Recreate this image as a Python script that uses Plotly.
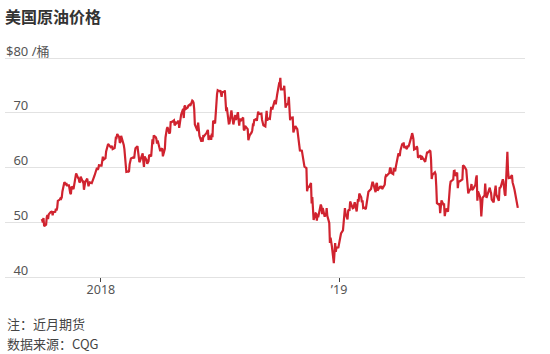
import pandas as pd
import plotly.graph_objects as go

# ---- data: WTI front-month daily settlements (US$/barrel) ----
p_2017_10 = [50.58, 50.42, 49.98, 50.79, 49.29, 49.58, 50.92, 51.30, 50.60, 51.45,
             51.87, 51.88, 52.04, 51.29, 51.84, 51.90, 52.47, 52.18, 52.64, 53.90,
             54.15, 54.38]
p_2017_11 = [54.30, 54.54, 55.64, 57.35, 57.20, 56.81, 57.17, 56.74, 56.76, 55.70,
             55.33, 55.14, 56.55, 56.09, 56.83, 58.02, 58.95, 58.11, 57.99, 57.30, 57.40]
p_2017_12 = [58.36, 57.47, 57.62, 55.96, 56.69, 57.36, 57.99, 57.14, 56.60, 57.04,
             57.30, 57.16, 57.46, 57.82, 58.09, 58.47, 59.97, 59.64, 59.84, 60.42]
p_2018_01 = [60.37, 61.63, 62.01, 61.44, 61.73, 62.96, 63.57, 63.80, 64.30, 63.73,
             63.97, 63.95, 63.37, 63.57, 64.47, 65.61, 65.51, 66.14, 65.56, 64.50, 64.73]
p_2018_02 = [65.80, 65.45, 64.15, 63.39, 61.79, 61.15, 59.20, 59.29, 59.19, 60.60,
             61.34, 61.68, 61.90, 61.68, 62.77, 63.55, 63.91, 63.01, 61.64]
p_2018_03 = [60.99, 61.25, 62.57, 62.60, 61.15, 60.12, 62.04, 61.36, 60.71, 60.96,
             61.19, 62.34, 62.06, 63.54, 65.17, 64.30, 65.88, 65.55, 65.25, 64.38, 64.94]
p_2018_04 = [63.01, 63.51, 63.37, 63.54, 62.06, 63.42, 65.51, 66.82, 67.07, 67.39,
             66.22, 66.52, 68.47, 68.29, 68.38, 68.64, 67.70, 68.05, 68.19, 68.10, 68.57]
p_2018_05 = [67.25, 67.93, 68.43, 69.72, 70.73, 69.06, 71.14, 71.36, 70.70, 70.96,
             71.31, 71.49, 71.49, 71.28, 72.24, 72.13, 71.84, 70.71, 67.88, 66.73,
             68.21, 67.04]
p_2018_06 = [65.81, 64.75, 65.52, 64.73, 65.95, 65.74, 66.10, 66.36, 66.64, 66.89,
             65.06, 65.85, 65.07, 66.22, 65.54, 68.58, 68.08, 70.53, 72.76, 73.45, 74.15]
p_2018_07 = [73.94, 74.14, 72.94, 73.80, 73.85, 74.11, 70.38, 70.33, 71.01, 68.06,
             68.08, 68.76, 69.46, 70.46, 67.89, 68.52, 69.30, 69.61, 68.69, 70.13, 68.76]
p_2018_08 = [67.66, 68.96, 68.49, 69.01, 69.17, 66.94, 66.81, 67.63, 67.20, 67.04,
             65.01, 65.46, 65.91, 66.43, 66.84, 67.86, 67.83, 68.72, 68.87, 68.53,
             69.51, 70.25, 69.80]
p_2018_09 = [69.87, 68.72, 67.77, 67.75, 67.54, 69.25, 70.37, 68.59, 68.99, 68.91,
             69.85, 71.12, 70.80, 70.78, 72.08, 72.28, 71.57, 72.12, 73.25]
p_2018_10 = [75.30, 75.23, 76.41, 74.33, 74.34, 74.29, 74.96, 73.17, 70.97, 71.34,
             71.78, 72.92, 69.75, 68.65, 69.12, 69.17, 66.43, 66.82, 67.33, 67.59,
             67.04, 66.18, 65.31]
p_2018_11 = [63.69, 63.14, 63.10, 62.21, 61.67, 60.67, 60.19, 59.93, 55.69, 56.25,
             56.46, 56.46, 57.20, 53.43, 54.63, 50.42, 51.63, 51.56, 50.29, 51.45, 50.93]
p_2018_12 = [52.95, 53.25, 52.89, 51.49, 52.61, 51.00, 51.65, 51.15, 52.58, 51.20,
             49.88, 46.24, 47.20, 45.88, 45.59, 42.53, 46.22, 44.61, 45.33, 45.41]
p_2019_01 = [46.54, 47.09, 47.96, 48.52, 49.78, 52.36, 52.59, 51.59, 50.51, 52.11,
             52.31, 52.07, 53.80, 52.57, 52.62, 53.13, 53.69, 51.99, 53.31, 54.23, 53.79]
p_2019_02 = [55.26, 54.56, 53.66, 54.01, 52.64, 52.72, 52.41, 53.10, 53.90, 54.41,
             55.59, 56.09, 56.92, 57.26, 57.26, 55.48, 55.50, 56.94, 57.22]
p_2019_03 = [55.80, 56.59, 56.56, 56.22, 56.66, 56.07, 56.79, 56.87, 58.26, 58.61,
             58.52, 59.09, 59.03, 59.83, 59.98, 59.04, 58.82, 59.94, 59.41, 59.30, 60.14]
p_2019_04 = [61.59, 62.58, 62.46, 62.10, 63.08, 64.40, 64.05, 64.61, 63.58, 63.89,
             63.40, 64.05, 63.76, 64.00, 65.70, 66.30, 65.89, 65.21, 63.30, 63.50, 63.91]
p_2019_05 = [63.60, 61.81, 61.94, 62.25, 61.40, 62.12, 61.70, 61.66, 61.04, 61.78,
             62.02, 62.87, 62.76, 63.10, 62.99, 61.42, 57.91, 58.63, 59.14, 58.81,
             56.59, 53.50]
p_2019_06 = [53.25, 53.48, 51.68, 52.59, 53.99, 53.26, 53.27, 51.14, 52.28, 52.51,
             51.93, 53.90, 53.76, 56.65, 57.43, 57.90, 57.83, 59.38, 59.43, 58.47]
p_2019_07 = [59.09, 56.25, 57.34, 57.51, 57.66, 57.83, 60.43, 60.20, 60.21, 59.58,
             57.62, 56.78, 55.30, 55.63, 56.22, 57.00, 55.88, 56.02, 56.20, 56.87,
             58.05, 58.58]
p_2019_08 = [53.95, 55.66, 54.69, 53.63, 51.09, 52.54, 54.50, 54.93, 57.10, 55.23,
             54.47, 54.87, 56.21, 56.34, 55.68, 55.35, 54.17, 53.64, 54.93, 55.78,
             56.71, 55.10]
p_2019_09 = [53.94, 56.26, 56.30, 56.52, 57.85, 57.40, 55.75, 55.09, 54.85, 62.90,
             59.34, 58.11, 58.13, 58.09, 58.64, 57.29, 56.49, 56.41, 55.91, 54.07]
p_2019_10 = [53.62, 52.64]

months = [("2017-10", p_2017_10), ("2017-11", p_2017_11), ("2017-12", p_2017_12),
          ("2018-01", p_2018_01), ("2018-02", p_2018_02), ("2018-03", p_2018_03),
          ("2018-04", p_2018_04), ("2018-05", p_2018_05), ("2018-06", p_2018_06),
          ("2018-07", p_2018_07), ("2018-08", p_2018_08), ("2018-09", p_2018_09),
          ("2018-10", p_2018_10), ("2018-11", p_2018_11), ("2018-12", p_2018_12),
          ("2019-01", p_2019_01), ("2019-02", p_2019_02), ("2019-03", p_2019_03),
          ("2019-04", p_2019_04), ("2019-05", p_2019_05), ("2019-06", p_2019_06),
          ("2019-07", p_2019_07), ("2019-08", p_2019_08), ("2019-09", p_2019_09),
          ("2019-10", p_2019_10)]

holidays = ["2017-11-23", "2017-12-25", "2018-01-01", "2018-01-15", "2018-02-19",
            "2018-03-30", "2018-05-28", "2018-07-04", "2018-09-03", "2018-11-22",
            "2018-12-25", "2019-01-01", "2019-01-21", "2019-02-18", "2019-04-19",
            "2019-05-27", "2019-07-04", "2019-09-02"]

y_tick_vals = [40, 50, 60, 70, 80]
y_tick_text = ["\u200740", "\u200750", "\u200760", "\u200770", "$80 /桶"]
x_tick_vals = ["2018-01-01", "2019-01-01"]
x_tick_text = ["2018", "\u201919"]

title_text = "美国原油价格"
note_text = "注：近月期货"
source_text = "数据来源：CQG"

# ---- build date index per month (trading days) ----
dates, prices = [], []
for m, vals in months:
    start = pd.Timestamp(m + "-01")
    end = start + pd.offsets.MonthEnd(0)
    days = pd.bdate_range(start, end, freq="C", holidays=holidays)
    for d, v in zip(days, vals):
        dates.append(d)
        prices.append(v)

W, H = 550, 354
ml, mr, mt, mb = 5, 25, 50, 77
plot_h = H - mt - mb


def py(pix):
    return (H - mb - pix) / plot_h


FONT = "Noto Sans, Noto Sans CJK SC, sans-serif"
CJK = "Noto Sans CJK SC, Noto Sans, sans-serif"

fig = go.Figure()
fig.add_trace(go.Scatter(x=dates, y=prices, mode="lines",
                         line=dict(color="#d0232f", width=2.2),
                         hoverinfo="skip", showlegend=False))

fig.update_layout(
    width=W, height=H,
    margin=dict(l=ml, r=mr, t=mt, b=mb, pad=0),
    paper_bgcolor="white", plot_bgcolor="white",
    font=dict(family=FONT, color="#555555", size=13),
    title=dict(text=title_text, xref="container", yref="container",
               x=5 / W, xanchor="left", y=1 - 17 / H, yanchor="middle",
               font=dict(family=CJK, size=16, color="#333333", weight=600)),
    xaxis=dict(range=["2017-08-07", "2019-10-13"], tickvals=x_tick_vals,
               ticktext=x_tick_text, ticks="outside", ticklen=4, tickwidth=1,
               tickcolor="#444444", showgrid=False, zeroline=False,
               showline=True, linecolor="#e2e2e2", linewidth=1,
               ticklabelstandoff=-3,
               tickfont=dict(size=12.5, color="#555555", family=FONT),
               fixedrange=True),
    yaxis=dict(range=[40, 81.5], tickvals=y_tick_vals, ticktext=y_tick_text,
               ticklabelposition="inside", ticklabeloverflow="allow", ticks="",
               showgrid=True, gridcolor="#e2e2e2", gridwidth=1, zeroline=False,
               showline=False, ticklabelshift=-7, ticklabelstandoff=-2,
               tickfont=dict(size=13, color="#555555", family=FONT),
               fixedrange=True),
    annotations=[
        dict(text=note_text, xref="paper", yref="paper", x=0, y=py(323),
             xanchor="left", yanchor="middle", showarrow=False,
             font=dict(family=CJK, size=13, color="#444444")),
        dict(text=source_text, xref="paper", yref="paper", x=0, y=py(343),
             xanchor="left", yanchor="middle", showarrow=False,
             font=dict(family=CJK, size=13, color="#444444")),
    ],
)

fig.write_html("out.html")
